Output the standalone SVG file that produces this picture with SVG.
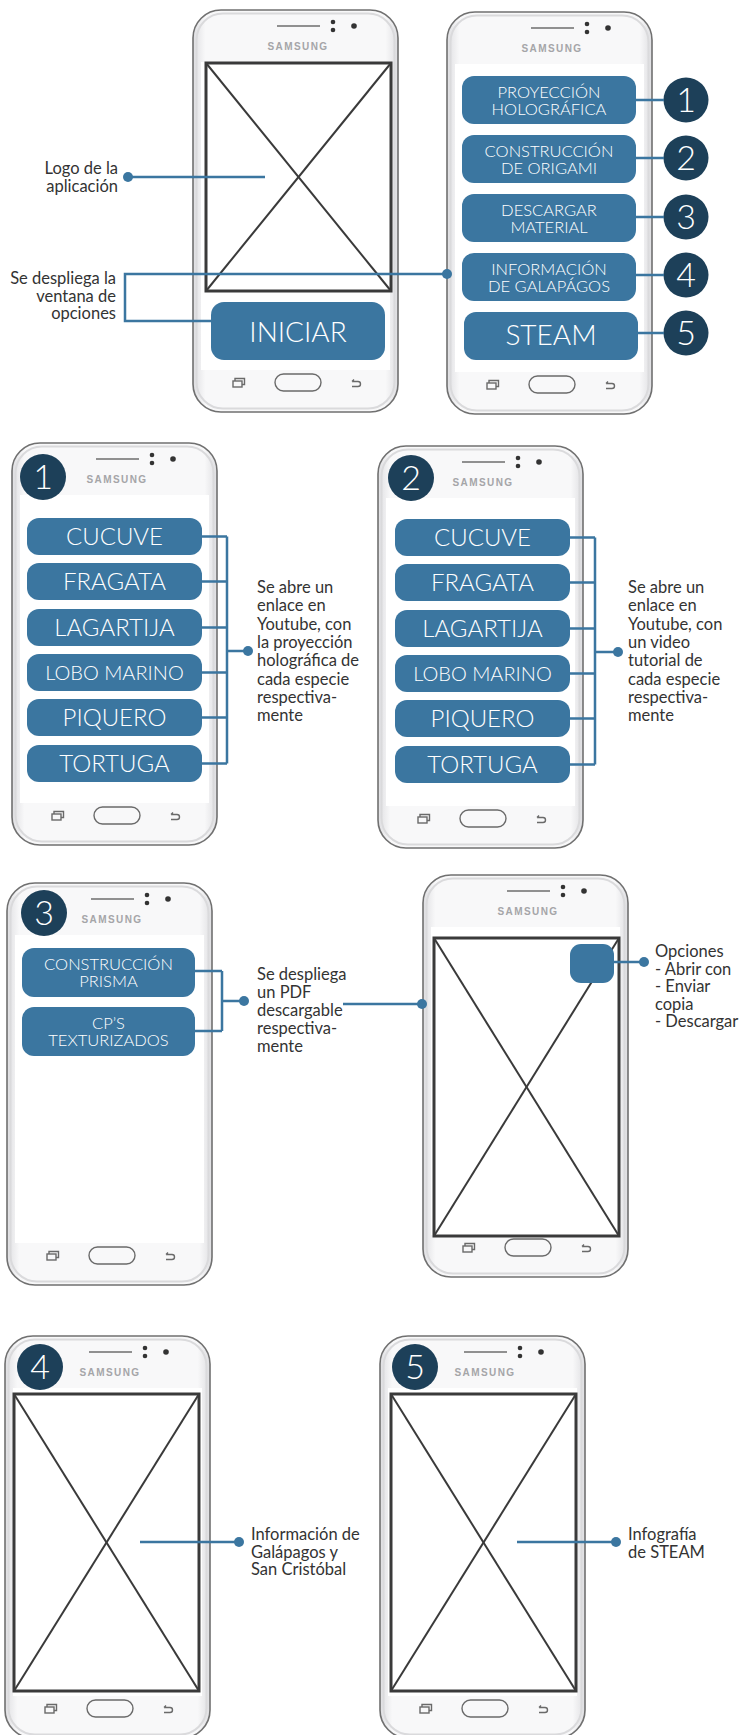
<svg xmlns="http://www.w3.org/2000/svg" xmlns:xlink="http://www.w3.org/1999/xlink" width="741" height="1735" viewBox="0 0 741 1735">
<style>
.lbl{font-family:Lato,"Open Sans","Liberation Sans",sans-serif;font-size:16.5px;fill:#333}
.r{text-anchor:end}
.btn{fill:#3b76a0}
.bt{font-family:Lato,"Open Sans","Liberation Sans",sans-serif;fill:#fff;text-anchor:middle;font-weight:300}
.b2{font-size:16.5px}
.b24{font-size:24px}
.b20{font-size:20px}
.b28{font-size:28px}
.num{fill:#1d4059}
.nt{font-family:Lato,"Open Sans","Liberation Sans",sans-serif;font-size:34px;fill:#fff;font-weight:300;text-anchor:middle}
.con{stroke:#3b76a0;stroke-width:2.5;fill:none}
.dot{fill:#3b76a0}
.ph{fill:none;stroke:#3a3a3a;stroke-width:3}
.x{stroke:#3a3a3a;stroke-width:2}
.sam{font-family:"Liberation Sans",Arial,sans-serif;font-weight:bold;font-size:10px;letter-spacing:1.4px;fill:#a5a5a8;text-anchor:middle}
.nav{fill:none;stroke:#6a6a6a;stroke-width:1.4}
</style>
<defs>
<linearGradient id="bodyG" x1="0" y1="0" x2="1" y2="0">
<stop offset="0" stop-color="#dedee1"/>
<stop offset="0.06" stop-color="#f8f8f9"/>
<stop offset="0.94" stop-color="#f8f8f9"/>
<stop offset="1" stop-color="#dedee1"/>
</linearGradient>
<g id="phone">
<path d="M28,0 H177 A28,28 0 0 1 205,28 V374 A28,28 0 0 1 177,402 H28 A28,28 0 0 1 0,374 V28 A28,28 0 0 1 28,0Z" fill="url(#bodyG)" stroke="#707070" stroke-width="1.6"/>
<path d="M30,3.5 H175 A26.5,26.5 0 0 1 201.5,30 V372 A26.5,26.5 0 0 1 175,398.5 H30 A26.5,26.5 0 0 1 3.5,372 V30 A26.5,26.5 0 0 1 30,3.5Z" fill="none" stroke="#dadadc" stroke-width="2"/>
<rect x="8" y="52" width="189" height="308" fill="#fff"/>
<line x1="84" y1="16" x2="127" y2="16" stroke="#909090" stroke-width="2"/>
<circle cx="140" cy="12" r="2.3" fill="#333"/>
<circle cx="140" cy="20" r="2.3" fill="#333"/>
<circle cx="161" cy="16" r="2.8" fill="#333"/>
<text class="sam" x="105" y="40">SAMSUNG</text>
<rect class="nav" x="40" y="371" width="9" height="6"/>
<path class="nav" d="M42,371 v-2.5 h9.5 v6 h-2.5"/>
<rect class="nav" x="82" y="364" width="46" height="17" rx="8.5"/>
<path class="nav" d="M159,371.5 h6 a2.5,2.5 0 0 1 0,5 h-6 M159,371.5 l2,-2"/>
</g>
</defs>
<rect width="741" height="1735" fill="#fff"/>

<g id="phoneA">
<use href="#phone" x="193" y="10"/>
<rect class="ph" x="206" y="63" width="185" height="228"/>
<line class="x" x1="206" y1="63" x2="391" y2="291"/>
<line class="x" x1="391" y1="63" x2="206" y2="291"/>
<rect class="btn" x="211" y="302" width="174" height="58" rx="13"/>
<text class="bt b28" x="298" y="342">INICIAR</text>
</g>
<g id="label-logo">
<text class="lbl r" x="118" y="174">Logo de la</text>
<text class="lbl r" x="118" y="192">aplicación</text>
</g>
<g id="label-ventana">
<text class="lbl r" x="116" y="284">Se despliega la</text>
<text class="lbl r" x="116" y="301.5">ventana de</text>
<text class="lbl r" x="116" y="319">opciones</text>
</g>

<g id="phoneB">
<use href="#phone" x="447" y="12"/>
<rect class="btn" x="462" y="76" width="174" height="48" rx="12"/>
<text class="bt b2" x="549" y="98">PROYECCIÓN</text>
<text class="bt b2" x="549" y="115">HOLOGRÁFICA</text>
<rect class="btn" x="462" y="135" width="174" height="48" rx="12"/>
<text class="bt b2" x="549" y="157">CONSTRUCCIÓN</text>
<text class="bt b2" x="549" y="174">DE ORIGAMI</text>
<rect class="btn" x="462" y="194" width="174" height="48" rx="12"/>
<text class="bt b2" x="549" y="216">DESCARGAR</text>
<text class="bt b2" x="549" y="233">MATERIAL</text>
<rect class="btn" x="462" y="253" width="174" height="48" rx="12"/>
<text class="bt b2" x="549" y="275">INFORMACIÓN</text>
<text class="bt b2" x="549" y="292">DE GALAPÁGOS</text>
<rect class="btn" x="464" y="312" width="174" height="48" rx="12"/>
<text class="bt b28" x="551" y="345">STEAM</text>
</g>
<g id="numbers-top">
<circle class="num" cx="686" cy="100" r="22.5"/><text class="nt" x="686" y="112">1</text>
<circle class="num" cx="686" cy="158" r="22.5"/><text class="nt" x="686" y="170">2</text>
<circle class="num" cx="686" cy="217" r="22.5"/><text class="nt" x="686" y="229">3</text>
<circle class="num" cx="686" cy="275" r="22.5"/><text class="nt" x="686" y="287">4</text>
<circle class="num" cx="686" cy="333" r="22.5"/><text class="nt" x="686" y="345">5</text>
</g>

<g id="phone1">
<use href="#phone" x="12" y="443"/>
<circle class="num" cx="43" cy="477" r="23"/><text class="nt" x="43" y="489">1</text>
<rect class="btn" x="27" y="518" width="175" height="37" rx="12"/><text class="bt b24" x="114.5" y="545">CUCUVE</text>
<rect class="btn" x="27" y="563" width="175" height="37" rx="12"/><text class="bt b24" x="114.5" y="590">FRAGATA</text>
<rect class="btn" x="27" y="609" width="175" height="37" rx="12"/><text class="bt b24" x="114.5" y="636">LAGARTIJA</text>
<rect class="btn" x="27" y="654" width="175" height="37" rx="12"/><text class="bt b20" x="114.5" y="679.5">LOBO MARINO</text>
<rect class="btn" x="27" y="699" width="175" height="37" rx="12"/><text class="bt b24" x="114.5" y="726">PIQUERO</text>
<rect class="btn" x="27" y="745" width="175" height="37" rx="12"/><text class="bt b24" x="114.5" y="772">TORTUGA</text>
</g>
<g id="label-1">
<text class="lbl" x="257" y="593">Se abre un</text>
<text class="lbl" x="257" y="611.3">enlace en</text>
<text class="lbl" x="257" y="629.6">Youtube, con</text>
<text class="lbl" x="257" y="647.9">la proyección</text>
<text class="lbl" x="257" y="666.2">holográfica de</text>
<text class="lbl" x="257" y="684.5">cada especie</text>
<text class="lbl" x="257" y="702.8">respectiva-</text>
<text class="lbl" x="257" y="721.1">mente</text>
</g>

<g id="phone2">
<use href="#phone" x="378" y="446"/>
<circle class="num" cx="411" cy="478" r="23"/><text class="nt" x="411" y="490">2</text>
<rect class="btn" x="395" y="519" width="175" height="37" rx="12"/><text class="bt b24" x="482.5" y="546">CUCUVE</text>
<rect class="btn" x="395" y="564" width="175" height="37" rx="12"/><text class="bt b24" x="482.5" y="591">FRAGATA</text>
<rect class="btn" x="395" y="610" width="175" height="37" rx="12"/><text class="bt b24" x="482.5" y="637">LAGARTIJA</text>
<rect class="btn" x="395" y="655" width="175" height="37" rx="12"/><text class="bt b20" x="482.5" y="680.5">LOBO MARINO</text>
<rect class="btn" x="395" y="700" width="175" height="37" rx="12"/><text class="bt b24" x="482.5" y="727">PIQUERO</text>
<rect class="btn" x="395" y="746" width="175" height="37" rx="12"/><text class="bt b24" x="482.5" y="773">TORTUGA</text>
</g>
<g id="label-2">
<text class="lbl" x="628" y="593">Se abre un</text>
<text class="lbl" x="628" y="611.3">enlace en</text>
<text class="lbl" x="628" y="629.6">Youtube, con</text>
<text class="lbl" x="628" y="647.9">un video</text>
<text class="lbl" x="628" y="666.2">tutorial de</text>
<text class="lbl" x="628" y="684.5">cada especie</text>
<text class="lbl" x="628" y="702.8">respectiva-</text>
<text class="lbl" x="628" y="721.1">mente</text>
</g>

<g id="phone3">
<use href="#phone" x="7" y="883"/>
<circle class="num" cx="44" cy="913" r="23"/><text class="nt" x="44" y="925">3</text>
<rect class="btn" x="22" y="948" width="173" height="49" rx="12"/>
<text class="bt b2" x="108.5" y="970">CONSTRUCCIÓN</text>
<text class="bt b2" x="108.5" y="987">PRISMA</text>
<rect class="btn" x="22" y="1007" width="173" height="49" rx="12"/>
<text class="bt b2" x="108.5" y="1029">CP’S</text>
<text class="bt b2" x="108.5" y="1046">TEXTURIZADOS</text>
</g>
<g id="label-3">
<text class="lbl" x="257" y="980">Se despliega</text>
<text class="lbl" x="257" y="998">un PDF</text>
<text class="lbl" x="257" y="1016">descargable</text>
<text class="lbl" x="257" y="1034">respectiva-</text>
<text class="lbl" x="257" y="1052">mente</text>
</g>

<g id="phonePDF">
<use href="#phone" x="423" y="875"/>
<rect class="ph" x="434" y="938" width="185" height="298"/>
<line class="x" x1="434" y1="938" x2="619" y2="1236"/>
<line class="x" x1="619" y1="938" x2="434" y2="1236"/>
<rect class="btn" x="570" y="944" width="44" height="39" rx="11"/>
</g>
<g id="label-opciones">
<text class="lbl" x="655" y="957">Opciones</text>
<text class="lbl" x="655" y="974.5">- Abrir con</text>
<text class="lbl" x="655" y="992">- Enviar</text>
<text class="lbl" x="655" y="1009.5">copia</text>
<text class="lbl" x="655" y="1027">- Descargar</text>
</g>

<g id="phone4">
<use href="#phone" x="5" y="1336"/>
<rect class="ph" x="14" y="1394" width="185" height="297"/>
<line class="x" x1="14" y1="1394" x2="199" y2="1691"/>
<line class="x" x1="199" y1="1394" x2="14" y2="1691"/>
<circle class="num" cx="40" cy="1367" r="23"/><text class="nt" x="40" y="1379">4</text>
</g>
<g id="label-4">
<text class="lbl" x="251" y="1540">Información de</text>
<text class="lbl" x="251" y="1557.5">Galápagos y</text>
<text class="lbl" x="251" y="1575">San Cristóbal</text>
</g>

<g id="phone5">
<use href="#phone" x="380" y="1336"/>
<rect class="ph" x="391" y="1394" width="185" height="297"/>
<line class="x" x1="391" y1="1394" x2="576" y2="1691"/>
<line class="x" x1="576" y1="1394" x2="391" y2="1691"/>
<circle class="num" cx="415" cy="1367" r="23"/><text class="nt" x="415" y="1379">5</text>
</g>
<g id="label-5">
<text class="lbl" x="628" y="1540">Infografía</text>
<text class="lbl" x="628" y="1557.5">de STEAM</text>
</g>

<g id="connectors">
<path class="con" d="M128,177 H265"/>
<circle class="dot" cx="128" cy="177" r="5"/>
<path class="con" d="M447,274 H125 V321 H211"/>
<circle class="dot" cx="447" cy="274" r="5"/>
<path class="con" d="M636,100 H664 M636,158 H664 M636,217 H664 M636,275 H664 M638,333 H664"/>
<path class="con" d="M202,536.5 H227 M202,581.5 H227 M202,627.5 H227 M202,672.5 H227 M202,717.5 H227 M202,763.5 H227 M227,536.5 V763.5 M227,651 H248"/>
<circle class="dot" cx="248" cy="651" r="5"/>
<path class="con" d="M570,537.5 H595 M570,582.5 H595 M570,628.5 H595 M570,673.5 H595 M570,718.5 H595 M570,764.5 H595 M595,537.5 V764.5 M595,652 H618"/>
<circle class="dot" cx="618" cy="652" r="5"/>
<path class="con" d="M195,971 H222 M195,1031 H222 M222,971 V1031 M222,1001 H244"/>
<circle class="dot" cx="244" cy="1001" r="5"/>
<path class="con" d="M343,1004 H422"/>
<circle class="dot" cx="422" cy="1004" r="5"/>
<path class="con" d="M614,962 H644"/>
<circle class="dot" cx="644" cy="962" r="5"/>
<path class="con" d="M140,1542 H239"/>
<circle class="dot" cx="239" cy="1542" r="5"/>
<path class="con" d="M517,1542 H616"/>
<circle class="dot" cx="616" cy="1542" r="5"/>
</g>
</svg>
